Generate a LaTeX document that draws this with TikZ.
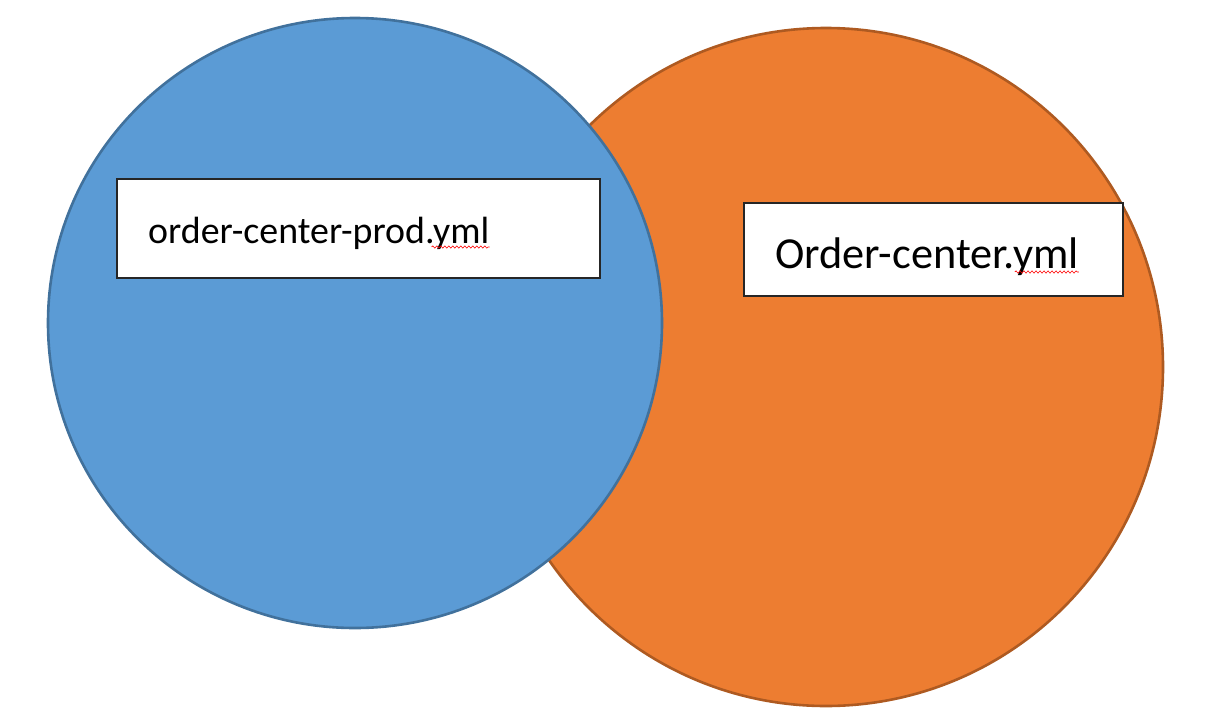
\documentclass[tikz,border=0pt]{standalone}
\usepackage{fontspec}
\setmainfont{Carlito}
\usetikzlibrary{decorations.pathmorphing,calc}
\definecolor{bluefill}{HTML}{5B9BD5}
\definecolor{blueline}{HTML}{41719C}
\definecolor{orangefill}{HTML}{ED7D31}
\definecolor{orangeline}{HTML}{AE5A21}
\definecolor{boxline}{HTML}{262626}
\tikzset{
  x=1pt, y=-1pt,
  labelbox/.style={draw=boxline, fill=white, line width=1.3pt},
  labeltext/.style={inner sep=0pt, anchor=base west, text=black},
  spell/.style={draw=red, line width=0.6pt, decorate,
    decoration={snake, segment length=4pt, amplitude=1.1pt}}
}
\begin{document}
\begin{tikzpicture}
\useasboundingbox (0,0) rectangle (1218,718);
% orange set (behind)
\filldraw[fill=orangefill, draw=orangeline, line width=2.6pt] (826,367) ellipse [x radius=337, y radius=339];
% blue set (front)
\filldraw[fill=bluefill, draw=blueline, line width=2.6pt] (355,323) ellipse [x radius=307, y radius=305];
% label boxes
\draw[labelbox] (117,179) rectangle (600,278);
\draw[labelbox] (744,203) rectangle (1123,296);
% texts
\node[labeltext, font=\fontsize{37.9}{40}\selectfont] (t1) at (148,243) {order-center-prod.yml};
\node[labeltext, font=\fontsize{44.3}{47}\selectfont] (t2) at (775,268) {Order-center.yml};
% spell-check squiggles
\draw[spell] ($(t1.base east)+(-58,4)$) -- ($(t1.base east)+(0,4)$);
\draw[spell] ($(t2.base east)+(-64,4)$) -- ($(t2.base east)+(0,4)$);
\end{tikzpicture}
\end{document}
